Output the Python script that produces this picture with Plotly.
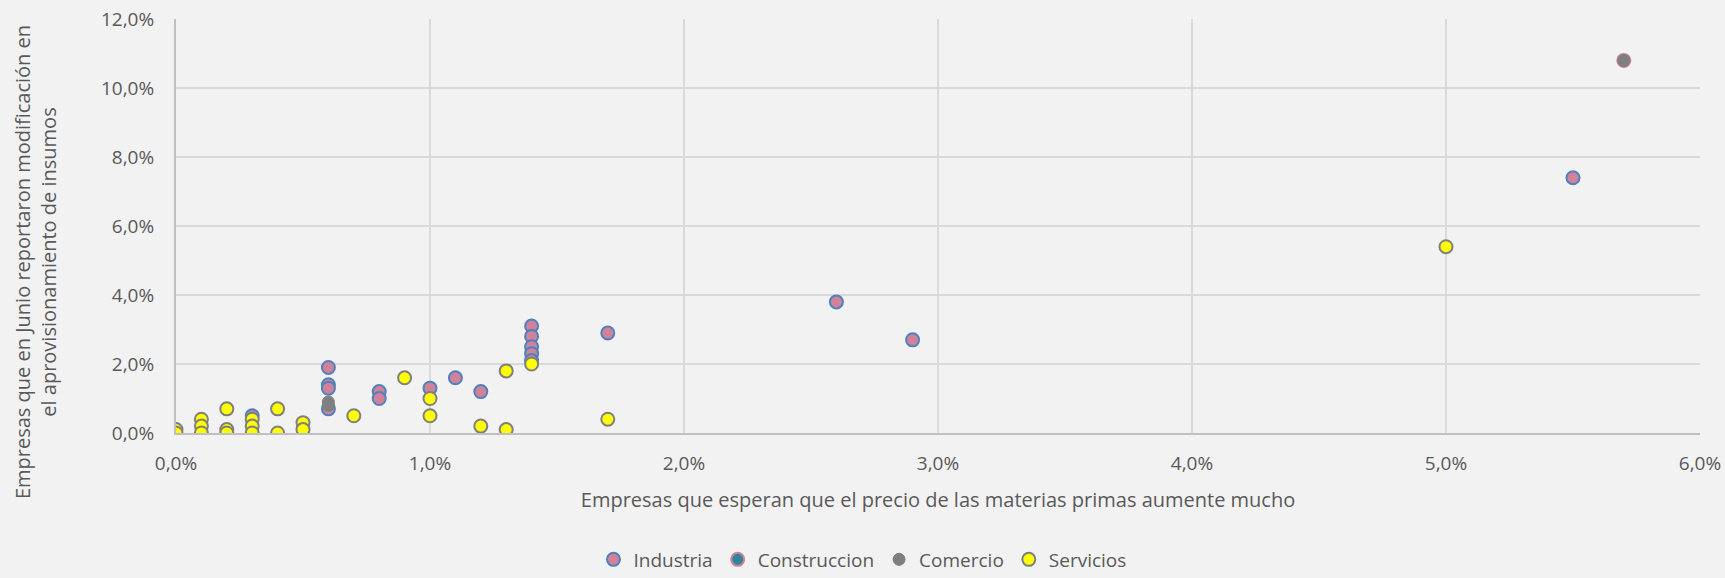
import plotly.graph_objects as go

# Values in percent
industria_x = [0.3, 0.6, 0.6, 0.6, 0.6, 0.8, 0.8, 1.0, 1.1, 1.2, 1.4, 1.4, 1.4, 1.4, 1.4, 1.7, 2.6, 2.9, 5.5]
industria_y = [0.5, 1.9, 1.4, 1.3, 0.7, 1.2, 1.0, 1.3, 1.6, 1.2, 3.1, 2.8, 2.5, 2.3, 2.1, 2.9, 3.8, 2.7, 7.4]

construccion_x = [5.7]
construccion_y = [10.8]

comercio_x = [0.0, 0.1, 0.2, 0.3, 0.6, 0.6, 5.7]
comercio_y = [0.0, 0.0, 0.0, 0.0, 0.9, 0.8, 10.8]

servicios_x = [0.0, 0.0, 0.1, 0.1, 0.1, 0.2, 0.2, 0.2, 0.3, 0.3, 0.3, 0.4, 0.4, 0.5, 0.5,
               0.7, 0.9, 1.0, 1.0, 1.2, 1.3, 1.3, 1.4, 1.7, 5.0]
servicios_y = [0.1, 0.0, 0.4, 0.2, 0.0, 0.7, 0.1, 0.0, 0.4, 0.2, 0.0, 0.7, 0.0, 0.3, 0.1,
               0.5, 1.6, 1.0, 0.5, 0.2, 1.8, 0.1, 2.0, 0.4, 5.4]

x_ticks = [0, 1, 2, 3, 4, 5, 6]
y_ticks = [0, 2, 4, 6, 8, 10, 12]

x_title = "Empresas que esperan que el precio de las materias primas aumente mucho"
y_title = "Empresas que en Junio reportaron modificación en<br>el aprovisionamiento de insumos"


def pct_label(v):
    return f"{v:.1f}%".replace(".", ",")


FONT = "Open Sans"
TXT = "#595959"
BG = "#F2F2F2"
MS = 13

fig = go.Figure()
fig.add_trace(go.Scatter(x=industria_x, y=industria_y, mode="markers", name="Industria",
                         marker=dict(size=MS, color="#D0829A", line=dict(color="#4F81BD", width=2))))
fig.add_trace(go.Scatter(x=construccion_x, y=construccion_y, mode="markers", name="Construccion",
                         marker=dict(size=MS, color="#31859C", line=dict(color="#D0829A", width=2))))
fig.add_trace(go.Scatter(x=comercio_x, y=comercio_y, mode="markers", name="Comercio",
                         marker=dict(size=MS - 1, color="#7F7F7F", line=dict(color="#7F7F7F", width=1))))
fig.add_trace(go.Scatter(x=servicios_x, y=servicios_y, mode="markers", name="Servicios",
                         marker=dict(size=MS, color="#FFFF00", line=dict(color="#7F7F7F", width=2))))

axis_common = dict(showgrid=True, gridcolor="#D9D9D9", gridwidth=2, zeroline=False,
                   showline=True, linecolor="#BFBFBF", linewidth=2,
                   ticks="outside", tickcolor=BG, automargin=False,
                   tickfont=dict(size=19, color=TXT))

fig.update_layout(
    width=1725, height=578,
    paper_bgcolor=BG, plot_bgcolor=BG,
    margin=dict(l=176, r=25, t=19, b=145),
    font=dict(family=FONT, size=19, color=TXT),
    showlegend=True,
    legend=dict(orientation="h", xref="container", yref="container", x=0.5, xanchor="center",
                y=0.032, yanchor="middle", font=dict(size=19, color=TXT), bgcolor="rgba(0,0,0,0)"),
    xaxis=dict(range=[0, 6], tickvals=x_ticks, ticktext=[pct_label(v) for v in x_ticks],
               ticklen=12,
               title=dict(text=x_title, font=dict(size=20, color=TXT), standoff=18),
               **axis_common),
    yaxis=dict(range=[0, 12], tickvals=y_ticks, ticktext=[pct_label(v) for v in y_ticks],
               ticklen=16, **axis_common),
    annotations=[dict(text=y_title, textangle=-90, xref="paper", yref="paper",
                      x=-0.0925, y=0.413, xanchor="center", yanchor="middle",
                      showarrow=False, font=dict(size=20, color=TXT))],
)
fig.write_html("out.html", config={"displayModeBar": False},
               post_script="document.body.style.margin='0';document.body.style.overflow='hidden';")
